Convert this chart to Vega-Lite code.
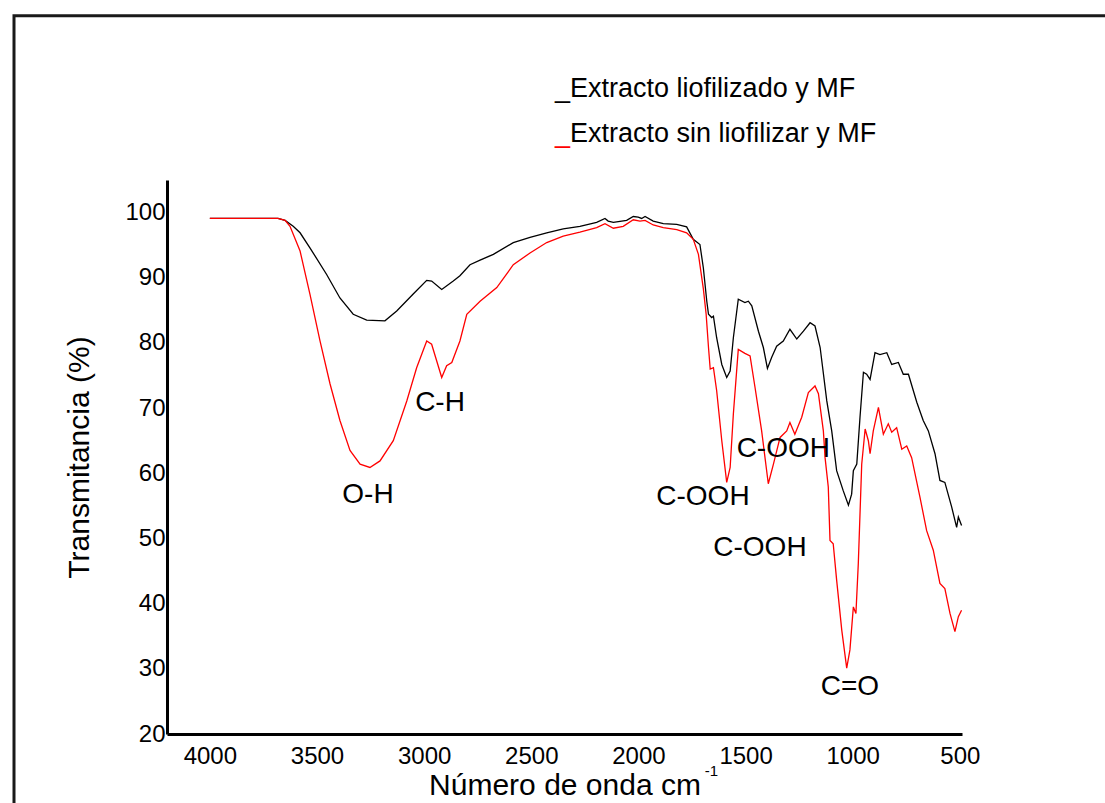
{
  "$schema": "https://vega.github.io/schema/vega-lite/v6.json",
  "width": 795,
  "height": 554,
  "autosize": {"type": "none"},
  "padding": {"left": 167, "top": 180, "right": 143, "bottom": 69},
  "background": "white",
  "config": {"view": {"stroke": null}, "font": "Liberation Sans"},
  "datasets": {
    "spec": [
      {"serie":"liofilizado","onda":4000,"trans":99.1},{"serie":"liofilizado","onda":3682,"trans":99.1},{"serie":"liofilizado","onda":3649,"trans":98.8},{"serie":"liofilizado","onda":3611,"trans":97.9},{"serie":"liofilizado","onda":3579,"trans":96.9},{"serie":"liofilizado","onda":3533,"trans":94.6},{"serie":"liofilizado","onda":3455,"trans":90.5},{"serie":"liofilizado","onda":3393,"trans":86.9},{"serie":"liofilizado","onda":3331,"trans":84.4},{"serie":"liofilizado","onda":3268,"trans":83.5},{"serie":"liofilizado","onda":3183,"trans":83.4},{"serie":"liofilizado","onda":3128,"trans":84.9},{"serie":"liofilizado","onda":3051,"trans":87.5},{"serie":"liofilizado","onda":2988,"trans":89.6},{"serie":"liofilizado","onda":2965,"trans":89.5},{"serie":"liofilizado","onda":2918,"trans":88.2},{"serie":"liofilizado","onda":2864,"trans":89.5},{"serie":"liofilizado","onda":2833,"trans":90.3},{"serie":"liofilizado","onda":2786,"trans":92.0},{"serie":"liofilizado","onda":2739,"trans":92.7},{"serie":"liofilizado","onda":2677,"trans":93.6},{"serie":"liofilizado","onda":2584,"trans":95.4},{"serie":"liofilizado","onda":2506,"trans":96.2},{"serie":"liofilizado","onda":2428,"trans":96.9},{"serie":"liofilizado","onda":2351,"trans":97.5},{"serie":"liofilizado","onda":2273,"trans":97.9},{"serie":"liofilizado","onda":2195,"trans":98.5},{"serie":"liofilizado","onda":2156,"trans":99.1},{"serie":"liofilizado","onda":2141,"trans":98.7},{"serie":"liofilizado","onda":2117,"trans":98.5},{"serie":"liofilizado","onda":2055,"trans":98.8},{"serie":"liofilizado","onda":2024,"trans":99.4},{"serie":"liofilizado","onda":2001,"trans":99.3},{"serie":"liofilizado","onda":1985,"trans":99.1},{"serie":"liofilizado","onda":1969,"trans":99.4},{"serie":"liofilizado","onda":1931,"trans":98.7},{"serie":"liofilizado","onda":1884,"trans":98.3},{"serie":"liofilizado","onda":1821,"trans":98.2},{"serie":"liofilizado","onda":1775,"trans":97.8},{"serie":"liofilizado","onda":1744,"trans":95.9},{"serie":"liofilizado","onda":1713,"trans":95.1},{"serie":"liofilizado","onda":1697,"trans":91.5},{"serie":"liofilizado","onda":1681,"trans":86.4},{"serie":"liofilizado","onda":1673,"trans":84.4},{"serie":"liofilizado","onda":1658,"trans":83.9},{"serie":"liofilizado","onda":1650,"trans":84.1},{"serie":"liofilizado","onda":1635,"trans":80.8},{"serie":"liofilizado","onda":1611,"trans":76.7},{"serie":"liofilizado","onda":1588,"trans":74.7},{"serie":"liofilizado","onda":1572,"trans":75.7},{"serie":"liofilizado","onda":1557,"trans":80.8},{"serie":"liofilizado","onda":1534,"trans":86.7},{"serie":"liofilizado","onda":1503,"trans":86.2},{"serie":"liofilizado","onda":1487,"trans":86.4},{"serie":"liofilizado","onda":1471,"trans":85.7},{"serie":"liofilizado","onda":1440,"trans":81.8},{"serie":"liofilizado","onda":1417,"trans":79.3},{"serie":"liofilizado","onda":1398,"trans":76.1},{"serie":"liofilizado","onda":1378,"trans":77.8},{"serie":"liofilizado","onda":1355,"trans":79.5},{"serie":"liofilizado","onda":1324,"trans":80.3},{"serie":"liofilizado","onda":1293,"trans":82.1},{"serie":"liofilizado","onda":1261,"trans":80.6},{"serie":"liofilizado","onda":1230,"trans":81.8},{"serie":"liofilizado","onda":1199,"trans":83.1},{"serie":"liofilizado","onda":1176,"trans":82.6},{"serie":"liofilizado","onda":1152,"trans":79.3},{"serie":"liofilizado","onda":1121,"trans":71.1},{"serie":"liofilizado","onda":1098,"trans":66.5},{"serie":"liofilizado","onda":1075,"trans":60.4},{"serie":"liofilizado","onda":1044,"trans":57.3},{"serie":"liofilizado","onda":1020,"trans":55.1},{"serie":"liofilizado","onda":1005,"trans":56.8},{"serie":"liofilizado","onda":997,"trans":60.4},{"serie":"liofilizado","onda":981,"trans":61.4},{"serie":"liofilizado","onda":966,"trans":68.6},{"serie":"liofilizado","onda":950,"trans":75.5},{"serie":"liofilizado","onda":935,"trans":75.2},{"serie":"liofilizado","onda":919,"trans":74.4},{"serie":"liofilizado","onda":896,"trans":78.5},{"serie":"liofilizado","onda":873,"trans":78.2},{"serie":"liofilizado","onda":841,"trans":78.5},{"serie":"liofilizado","onda":818,"trans":76.7},{"serie":"liofilizado","onda":787,"trans":77.0},{"serie":"liofilizado","onda":764,"trans":75.2},{"serie":"liofilizado","onda":740,"trans":75.2},{"serie":"liofilizado","onda":701,"trans":70.9},{"serie":"liofilizado","onda":671,"trans":68.1},{"serie":"liofilizado","onda":647,"trans":66.5},{"serie":"liofilizado","onda":616,"trans":63.0},{"serie":"liofilizado","onda":593,"trans":58.9},{"serie":"liofilizado","onda":570,"trans":58.6},{"serie":"liofilizado","onda":538,"trans":54.8},{"serie":"liofilizado","onda":515,"trans":51.7},{"serie":"liofilizado","onda":507,"trans":53.3},{"serie":"liofilizado","onda":492,"trans":52.0},
      {"serie":"sin liofilizar","onda":4000,"trans":99.1},{"serie":"sin liofilizar","onda":3682,"trans":99.1},{"serie":"sin liofilizar","onda":3649,"trans":98.8},{"serie":"sin liofilizar","onda":3626,"trans":97.9},{"serie":"sin liofilizar","onda":3579,"trans":94.1},{"serie":"sin liofilizar","onda":3533,"trans":87.5},{"serie":"sin liofilizar","onda":3486,"trans":80.3},{"serie":"sin liofilizar","onda":3439,"trans":73.7},{"serie":"sin liofilizar","onda":3393,"trans":68.1},{"serie":"sin liofilizar","onda":3346,"trans":63.5},{"serie":"sin liofilizar","onda":3299,"trans":61.4},{"serie":"sin liofilizar","onda":3253,"trans":60.9},{"serie":"sin liofilizar","onda":3206,"trans":61.9},{"serie":"sin liofilizar","onda":3144,"trans":65.0},{"serie":"sin liofilizar","onda":3081,"trans":71.1},{"serie":"sin liofilizar","onda":3035,"trans":76.2},{"serie":"sin liofilizar","onda":2988,"trans":80.3},{"serie":"sin liofilizar","onda":2965,"trans":79.8},{"serie":"sin liofilizar","onda":2918,"trans":74.7},{"serie":"sin liofilizar","onda":2895,"trans":76.5},{"serie":"sin liofilizar","onda":2871,"trans":77.0},{"serie":"sin liofilizar","onda":2833,"trans":80.3},{"serie":"sin liofilizar","onda":2801,"trans":84.4},{"serie":"sin liofilizar","onda":2739,"trans":86.4},{"serie":"sin liofilizar","onda":2661,"trans":88.5},{"serie":"sin liofilizar","onda":2584,"trans":92.0},{"serie":"sin liofilizar","onda":2506,"trans":93.8},{"serie":"sin liofilizar","onda":2428,"trans":95.4},{"serie":"sin liofilizar","onda":2351,"trans":96.4},{"serie":"sin liofilizar","onda":2273,"trans":97.0},{"serie":"sin liofilizar","onda":2195,"trans":97.7},{"serie":"sin liofilizar","onda":2156,"trans":98.3},{"serie":"sin liofilizar","onda":2117,"trans":97.6},{"serie":"sin liofilizar","onda":2071,"trans":97.9},{"serie":"sin liofilizar","onda":2024,"trans":98.9},{"serie":"sin liofilizar","onda":1993,"trans":98.7},{"serie":"sin liofilizar","onda":1969,"trans":98.8},{"serie":"sin liofilizar","onda":1931,"trans":98.1},{"serie":"sin liofilizar","onda":1884,"trans":97.7},{"serie":"sin liofilizar","onda":1821,"trans":97.4},{"serie":"sin liofilizar","onda":1775,"trans":96.9},{"serie":"sin liofilizar","onda":1744,"trans":95.9},{"serie":"sin liofilizar","onda":1720,"trans":93.6},{"serie":"sin liofilizar","onda":1697,"trans":88.3},{"serie":"sin liofilizar","onda":1684,"trans":84.4},{"serie":"sin liofilizar","onda":1673,"trans":79.3},{"serie":"sin liofilizar","onda":1665,"trans":76.0},{"serie":"sin liofilizar","onda":1650,"trans":76.2},{"serie":"sin liofilizar","onda":1635,"trans":72.7},{"serie":"sin liofilizar","onda":1611,"trans":65.0},{"serie":"sin liofilizar","onda":1588,"trans":58.6},{"serie":"sin liofilizar","onda":1572,"trans":60.9},{"serie":"sin liofilizar","onda":1557,"trans":69.1},{"serie":"sin liofilizar","onda":1534,"trans":79.0},{"serie":"sin liofilizar","onda":1503,"trans":78.4},{"serie":"sin liofilizar","onda":1479,"trans":78.0},{"serie":"sin liofilizar","onda":1456,"trans":73.2},{"serie":"sin liofilizar","onda":1425,"trans":66.5},{"serie":"sin liofilizar","onda":1394,"trans":58.4},{"serie":"sin liofilizar","onda":1370,"trans":61.4},{"serie":"sin liofilizar","onda":1339,"trans":65.5},{"serie":"sin liofilizar","onda":1308,"trans":66.5},{"serie":"sin liofilizar","onda":1293,"trans":67.8},{"serie":"sin liofilizar","onda":1270,"trans":66.0},{"serie":"sin liofilizar","onda":1238,"trans":68.6},{"serie":"sin liofilizar","onda":1207,"trans":72.4},{"serie":"sin liofilizar","onda":1176,"trans":73.4},{"serie":"sin liofilizar","onda":1160,"trans":72.2},{"serie":"sin liofilizar","onda":1137,"trans":66.5},{"serie":"sin liofilizar","onda":1129,"trans":62.4},{"serie":"sin liofilizar","onda":1114,"trans":57.9},{"serie":"sin liofilizar","onda":1106,"trans":49.7},{"serie":"sin liofilizar","onda":1091,"trans":49.2},{"serie":"sin liofilizar","onda":1075,"trans":43.6},{"serie":"sin liofilizar","onda":1051,"trans":35.9},{"serie":"sin liofilizar","onda":1028,"trans":30.1},{"serie":"sin liofilizar","onda":1013,"trans":32.9},{"serie":"sin liofilizar","onda":997,"trans":39.5},{"serie":"sin liofilizar","onda":985,"trans":38.5},{"serie":"sin liofilizar","onda":974,"trans":46.1},{"serie":"sin liofilizar","onda":958,"trans":61.4},{"serie":"sin liofilizar","onda":942,"trans":66.8},{"serie":"sin liofilizar","onda":927,"trans":65.0},{"serie":"sin liofilizar","onda":919,"trans":63.0},{"serie":"sin liofilizar","onda":904,"trans":66.5},{"serie":"sin liofilizar","onda":880,"trans":70.1},{"serie":"sin liofilizar","onda":857,"trans":66.0},{"serie":"sin liofilizar","onda":834,"trans":67.6},{"serie":"sin liofilizar","onda":818,"trans":66.3},{"serie":"sin liofilizar","onda":795,"trans":67.0},{"serie":"sin liofilizar","onda":771,"trans":63.7},{"serie":"sin liofilizar","onda":748,"trans":64.2},{"serie":"sin liofilizar","onda":725,"trans":62.4},{"serie":"sin liofilizar","onda":686,"trans":56.3},{"serie":"sin liofilizar","onda":655,"trans":51.2},{"serie":"sin liofilizar","onda":624,"trans":48.2},{"serie":"sin liofilizar","onda":593,"trans":43.1},{"serie":"sin liofilizar","onda":570,"trans":42.3},{"serie":"sin liofilizar","onda":546,"trans":38.5},{"serie":"sin liofilizar","onda":523,"trans":35.7},{"serie":"sin liofilizar","onda":507,"trans":38.0},{"serie":"sin liofilizar","onda":492,"trans":39.0}
    ],
    "bandas": [
      {"etiqueta":"O-H","onda":3262,"trans":56.6},
      {"etiqueta":"C-H","onda":2926,"trans":70.8},
      {"etiqueta":"C-OOH","onda":1699,"trans":56.4},
      {"etiqueta":"C-OOH","onda":1324,"trans":63.7},
      {"etiqueta":"C-OOH","onda":1433,"trans":48.6},
      {"etiqueta":"C=O","onda":1013,"trans":27.2}
    ],
    "leyenda": [
      {"serie":"liofilizado","texto":"Extracto liofilizado y MF","onda":2389,"trans":118.9},
      {"serie":"sin liofilizar","texto":"Extracto sin liofilizar y MF","onda":2389,"trans":112.0}
    ]
  },
  "layer": [
    {
      "data": {"values": [{}]},
      "mark": {"type": "rect", "filled": false, "fill": null, "stroke": "#1a1a1a", "strokeWidth": 3},
      "encoding": {
        "x": {"datum": 4914, "type": "quantitative"},
        "x2": {"datum": -300},
        "y": {"datum": 130.2, "type": "quantitative"},
        "y2": {"datum": -30}
      }
    },
    {
      "data": {"name": "spec"},
      "mark": {"type": "line", "strokeWidth": 1.3, "interpolate": "linear"},
      "encoding": {
        "x": {
          "field": "onda", "type": "quantitative",
          "scale": {"domain": [490, 4200], "reverse": true, "nice": false, "zero": false},
          "axis": {
            "title": "Número de onda cm",
            "values": [500, 1000, 1500, 2000, 2500, 3000, 3500, 4000],
            "format": "d",
            "grid": false, "ticks": false,
            "domainColor": "#000000", "domainWidth": 3,
            "labelFont": "Liberation Sans", "labelFontSize": 24, "labelColor": "#000000",
            "labelPadding": 10, "labelFlush": false,
            "titleFont": "Liberation Sans", "titleFontSize": 30, "titleFontWeight": "normal",
            "titleColor": "#000000", "titlePadding": 2
          }
        },
        "y": {
          "field": "trans", "type": "quantitative",
          "scale": {"domain": [20, 105], "nice": false, "zero": false},
          "axis": {
            "title": "Transmitancia (%)",
            "values": [20, 30, 40, 50, 60, 70, 80, 90, 100],
            "grid": false, "ticks": false,
            "domainColor": "#000000", "domainWidth": 3,
            "labelFont": "Liberation Sans", "labelFontSize": 24, "labelColor": "#000000",
            "labelPadding": 2, "labelFlush": false,
            "titleFont": "Liberation Sans", "titleFontSize": 30, "titleFontWeight": "normal",
            "titleColor": "#000000", "titlePadding": 30
          }
        },
        "color": {
          "field": "serie", "type": "nominal",
          "scale": {"domain": ["liofilizado", "sin liofilizar"], "range": ["#000000", "#ff0000"]},
          "legend": null
        }
      }
    },
    {
      "data": {"name": "bandas"},
      "mark": {"type": "text", "fontSize": 28, "font": "Liberation Sans", "color": "#000000", "align": "center", "baseline": "middle"},
      "encoding": {
        "x": {"field": "onda", "type": "quantitative"},
        "y": {"field": "trans", "type": "quantitative"},
        "text": {"field": "etiqueta"}
      }
    },
    {
      "data": {"name": "leyenda"},
      "mark": {"type": "text", "fontSize": 27, "font": "Liberation Sans", "align": "left", "baseline": "middle"},
      "encoding": {
        "x": {"field": "onda", "type": "quantitative"},
        "y": {"field": "trans", "type": "quantitative"},
        "text": {"value": "_"},
        "color": {"field": "serie", "type": "nominal"}
      }
    },
    {
      "data": {"name": "leyenda"},
      "mark": {"type": "text", "fontSize": 27, "font": "Liberation Sans", "align": "left", "baseline": "middle", "color": "#000000", "dx": 15},
      "encoding": {
        "x": {"field": "onda", "type": "quantitative"},
        "y": {"field": "trans", "type": "quantitative"},
        "text": {"field": "texto"}
      }
    },
    {
      "data": {"values": [{}]},
      "mark": {"type": "text", "fontSize": 15, "font": "Liberation Sans", "color": "#000000", "align": "left", "baseline": "middle"},
      "encoding": {
        "x": {"datum": 1690, "type": "quantitative"},
        "y": {"datum": 14.3, "type": "quantitative"},
        "text": {"value": "-1"}
      }
    }
  ]
}
